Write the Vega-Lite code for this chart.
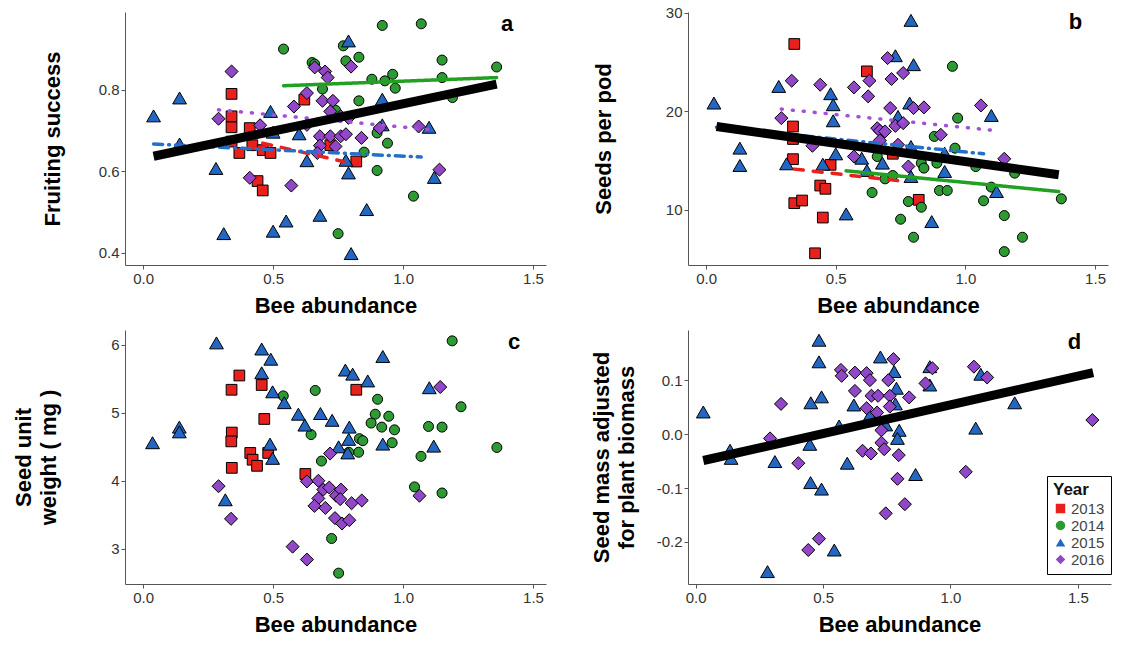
{
  "$schema": "https://vega.github.io/schema/vega-lite/v6.json",
  "padding": {"left": 12, "top": 5, "right": 5, "bottom": 5},
  "background": "white",
  "config": {
    "font": "Liberation Sans",
    "view": {"stroke": null},
    "axis": {"grid": false, "domainColor": "#555", "tickColor": "#555", "tickSize": 4, "labelFontSize": 15, "labelColor": "#333", "titleFontSize": 22, "titleFontWeight": "bold", "titleColor": "#000", "labelPadding": 2, "labelFlush": false, "labelOverlap": false, "titleLineHeight": 25},
    "axisX": {"titlePadding": 9},
    "legend": {"symbolStrokeColor": "black"}
  },
  "datasets": {
    "a": [
      {"yr":"2013","x":0.34,"y":0.79},{"yr":"2013","x":0.34,"y":0.735},{"yr":"2013","x":0.34,"y":0.708},{"yr":"2013","x":0.41,"y":0.706},{"yr":"2013","x":0.42,"y":0.664},{"yr":"2013","x":0.37,"y":0.645},{"yr":"2013","x":0.46,"y":0.652},{"yr":"2013","x":0.49,"y":0.645},{"yr":"2013","x":0.44,"y":0.576},{"yr":"2013","x":0.46,"y":0.553},{"yr":"2013","x":0.62,"y":0.776},{"yr":"2013","x":0.72,"y":0.664},{"yr":"2013","x":0.82,"y":0.624},{"yr":"2013","x":0.34,"y":0.673},
      {"yr":"2014","x":0.54,"y":0.9},{"yr":"2014","x":0.92,"y":0.958},{"yr":"2014","x":1.07,"y":0.962},{"yr":"2014","x":0.65,"y":0.867},{"yr":"2014","x":0.66,"y":0.863},{"yr":"2014","x":0.77,"y":0.908},{"yr":"2014","x":0.78,"y":0.871},{"yr":"2014","x":0.83,"y":0.88},{"yr":"2014","x":0.88,"y":0.826},{"yr":"2014","x":0.93,"y":0.822},{"yr":"2014","x":0.96,"y":0.838},{"yr":"2014","x":0.97,"y":0.804},{"yr":"2014","x":1.15,"y":0.873},{"yr":"2014","x":1.15,"y":0.83},{"yr":"2014","x":1.36,"y":0.856},{"yr":"2014","x":1.19,"y":0.781},{"yr":"2014","x":0.69,"y":0.802},{"yr":"2014","x":0.83,"y":0.773},{"yr":"2014","x":0.9,"y":0.694},{"yr":"2014","x":0.94,"y":0.669},{"yr":"2014","x":0.85,"y":0.647},{"yr":"2014","x":0.9,"y":0.602},{"yr":"2014","x":1.04,"y":0.539},{"yr":"2014","x":0.75,"y":0.447},{"yr":"2014","x":0.74,"y":0.75},
      {"yr":"2015","x":0.04,"y":0.736},{"yr":"2015","x":0.14,"y":0.78},{"yr":"2015","x":0.14,"y":0.667},{"yr":"2015","x":0.28,"y":0.607},{"yr":"2015","x":0.31,"y":0.447},{"yr":"2015","x":0.49,"y":0.747},{"yr":"2015","x":0.5,"y":0.696},{"yr":"2015","x":0.5,"y":0.453},{"yr":"2015","x":0.55,"y":0.478},{"yr":"2015","x":0.6,"y":0.692},{"yr":"2015","x":0.63,"y":0.626},{"yr":"2015","x":0.68,"y":0.492},{"yr":"2015","x":0.79,"y":0.92},{"yr":"2015","x":0.78,"y":0.627},{"yr":"2015","x":0.79,"y":0.596},{"yr":"2015","x":0.8,"y":0.398},{"yr":"2015","x":0.86,"y":0.506},{"yr":"2015","x":0.92,"y":0.777},{"yr":"2015","x":0.92,"y":0.714},{"yr":"2015","x":1.1,"y":0.708},{"yr":"2015","x":1.12,"y":0.585},
      {"yr":"2016","x":0.34,"y":0.845},{"yr":"2016","x":0.29,"y":0.729},{"yr":"2016","x":0.45,"y":0.713},{"yr":"2016","x":0.41,"y":0.584},{"yr":"2016","x":0.57,"y":0.565},{"yr":"2016","x":0.58,"y":0.759},{"yr":"2016","x":0.63,"y":0.792},{"yr":"2016","x":0.63,"y":0.714},{"yr":"2016","x":0.66,"y":0.855},{"yr":"2016","x":0.7,"y":0.845},{"yr":"2016","x":0.71,"y":0.83},{"yr":"2016","x":0.8,"y":0.857},{"yr":"2016","x":0.69,"y":0.773},{"yr":"2016","x":0.73,"y":0.773},{"yr":"2016","x":0.72,"y":0.747},{"yr":"2016","x":0.76,"y":0.735},{"yr":"2016","x":0.79,"y":0.731},{"yr":"2016","x":0.68,"y":0.686},{"yr":"2016","x":0.72,"y":0.686},{"yr":"2016","x":0.76,"y":0.686},{"yr":"2016","x":0.78,"y":0.691},{"yr":"2016","x":0.68,"y":0.663},{"yr":"2016","x":0.74,"y":0.661},{"yr":"2016","x":0.67,"y":0.645},{"yr":"2016","x":0.84,"y":0.682},{"yr":"2016","x":0.91,"y":0.706},{"yr":"2016","x":1.06,"y":0.71},{"yr":"2016","x":1.14,"y":0.604}
    ],
    "b": [
      {"yr":"2013","x":0.34,"y":26.85},{"yr":"2013","x":0.62,"y":24.07},{"yr":"2013","x":0.335,"y":18.47},{"yr":"2013","x":0.335,"y":15.15},{"yr":"2013","x":0.48,"y":14.58},{"yr":"2013","x":0.44,"y":12.47},{"yr":"2013","x":0.46,"y":12.14},{"yr":"2013","x":0.34,"y":10.68},{"yr":"2013","x":0.37,"y":10.95},{"yr":"2013","x":0.45,"y":9.22},{"yr":"2013","x":0.42,"y":5.59},{"yr":"2013","x":0.82,"y":11.02},{"yr":"2013","x":0.72,"y":15.7},{"yr":"2013","x":0.335,"y":17.2},
      {"yr":"2014","x":0.95,"y":24.58},{"yr":"2014","x":0.97,"y":19.32},{"yr":"2014","x":0.88,"y":17.46},{"yr":"2014","x":0.96,"y":16.27},{"yr":"2014","x":0.66,"y":15.42},{"yr":"2014","x":0.83,"y":14.75},{"yr":"2014","x":0.84,"y":14.24},{"yr":"2014","x":0.89,"y":14.75},{"yr":"2014","x":0.69,"y":13.15},{"yr":"2014","x":0.72,"y":13.49},{"yr":"2014","x":0.64,"y":11.76},{"yr":"2014","x":0.78,"y":10.85},{"yr":"2014","x":0.83,"y":10.27},{"yr":"2014","x":0.75,"y":9.05},{"yr":"2014","x":0.8,"y":7.22},{"yr":"2014","x":0.9,"y":11.97},{"yr":"2014","x":0.93,"y":11.97},{"yr":"2014","x":1.07,"y":10.92},{"yr":"2014","x":1.1,"y":12.31},{"yr":"2014","x":1.15,"y":9.42},{"yr":"2014","x":1.15,"y":5.76},{"yr":"2014","x":1.22,"y":7.22},{"yr":"2014","x":1.19,"y":13.73},{"yr":"2014","x":1.37,"y":11.12},{"yr":"2014","x":1.04,"y":14.4},
      {"yr":"2015","x":0.03,"y":20.85},{"yr":"2015","x":0.13,"y":16.27},{"yr":"2015","x":0.13,"y":14.51},{"yr":"2015","x":0.28,"y":22.54},{"yr":"2015","x":0.31,"y":14.68},{"yr":"2015","x":0.48,"y":21.8},{"yr":"2015","x":0.49,"y":20.68},{"yr":"2015","x":0.49,"y":19.05},{"yr":"2015","x":0.5,"y":15.69},{"yr":"2015","x":0.45,"y":14.64},{"yr":"2015","x":0.54,"y":9.59},{"yr":"2015","x":0.6,"y":15.25},{"yr":"2015","x":0.62,"y":14.0},{"yr":"2015","x":0.68,"y":14.75},{"yr":"2015","x":0.73,"y":25.66},{"yr":"2015","x":0.79,"y":29.25},{"yr":"2015","x":0.8,"y":24.75},{"yr":"2015","x":0.785,"y":20.85},{"yr":"2015","x":0.74,"y":19.49},{"yr":"2015","x":0.79,"y":16.44},{"yr":"2015","x":0.79,"y":13.39},{"yr":"2015","x":0.87,"y":8.81},{"yr":"2015","x":0.92,"y":15.76},{"yr":"2015","x":0.92,"y":13.9},{"yr":"2015","x":1.1,"y":19.59},{"yr":"2015","x":1.12,"y":11.86},
      {"yr":"2016","x":0.33,"y":23.12},{"yr":"2016","x":0.29,"y":19.32},{"yr":"2016","x":0.44,"y":22.71},{"yr":"2016","x":0.41,"y":16.51},{"yr":"2016","x":0.57,"y":22.44},{"yr":"2016","x":0.63,"y":23.12},{"yr":"2016","x":0.625,"y":21.53},{"yr":"2016","x":0.7,"y":25.42},{"yr":"2016","x":0.715,"y":23.29},{"yr":"2016","x":0.76,"y":23.9},{"yr":"2016","x":0.71,"y":20.34},{"yr":"2016","x":0.8,"y":20.34},{"yr":"2016","x":0.84,"y":20.41},{"yr":"2016","x":0.66,"y":18.3},{"yr":"2016","x":0.67,"y":18.03},{"yr":"2016","x":0.69,"y":17.97},{"yr":"2016","x":0.73,"y":18.54},{"yr":"2016","x":0.76,"y":18.81},{"yr":"2016","x":0.67,"y":17.05},{"yr":"2016","x":0.74,"y":16.61},{"yr":"2016","x":0.57,"y":15.42},{"yr":"2016","x":0.78,"y":14.41},{"yr":"2016","x":0.905,"y":17.63},{"yr":"2016","x":1.06,"y":20.61},{"yr":"2016","x":1.15,"y":15.19}
    ],
    "c": [
      {"yr":"2013","x":0.37,"y":5.55},{"yr":"2013","x":0.34,"y":5.34},{"yr":"2013","x":0.456,"y":5.41},{"yr":"2013","x":0.82,"y":5.34},{"yr":"2013","x":0.466,"y":4.91},{"yr":"2013","x":0.341,"y":4.71},{"yr":"2013","x":0.339,"y":4.58},{"yr":"2013","x":0.412,"y":4.41},{"yr":"2013","x":0.421,"y":4.31},{"yr":"2013","x":0.438,"y":4.22},{"yr":"2013","x":0.481,"y":4.41},{"yr":"2013","x":0.341,"y":4.19},{"yr":"2013","x":0.624,"y":4.1},
      {"yr":"2014","x":0.539,"y":5.25},{"yr":"2014","x":0.662,"y":5.33},{"yr":"2014","x":0.646,"y":4.68},{"yr":"2014","x":0.686,"y":4.29},{"yr":"2014","x":0.725,"y":3.15},{"yr":"2014","x":0.752,"y":2.64},{"yr":"2014","x":0.832,"y":4.62},{"yr":"2014","x":0.845,"y":4.59},{"yr":"2014","x":0.829,"y":4.42},{"yr":"2014","x":0.902,"y":5.2},{"yr":"2014","x":0.893,"y":4.98},{"yr":"2014","x":0.945,"y":4.95},{"yr":"2014","x":0.877,"y":4.85},{"yr":"2014","x":0.918,"y":4.79},{"yr":"2014","x":0.967,"y":4.75},{"yr":"2014","x":0.958,"y":4.56},{"yr":"2014","x":1.189,"y":6.06},{"yr":"2014","x":1.223,"y":5.09},{"yr":"2014","x":1.098,"y":4.8},{"yr":"2014","x":1.15,"y":4.79},{"yr":"2014","x":1.069,"y":4.36},{"yr":"2014","x":1.044,"y":3.91},{"yr":"2014","x":1.15,"y":3.82},{"yr":"2014","x":1.361,"y":4.49},{"yr":"2014","x":0.791,"y":4.42},
      {"yr":"2015","x":0.036,"y":4.56},{"yr":"2015","x":0.139,"y":4.79},{"yr":"2015","x":0.139,"y":4.72},{"yr":"2015","x":0.282,"y":6.03},{"yr":"2015","x":0.316,"y":3.72},{"yr":"2015","x":0.456,"y":5.94},{"yr":"2015","x":0.491,"y":5.79},{"yr":"2015","x":0.456,"y":5.59},{"yr":"2015","x":0.498,"y":5.31},{"yr":"2015","x":0.543,"y":5.15},{"yr":"2015","x":0.488,"y":4.54},{"yr":"2015","x":0.498,"y":4.33},{"yr":"2015","x":0.597,"y":4.98},{"yr":"2015","x":0.622,"y":4.82},{"yr":"2015","x":0.682,"y":4.99},{"yr":"2015","x":0.727,"y":4.89},{"yr":"2015","x":0.793,"y":4.79},{"yr":"2015","x":0.791,"y":4.61},{"yr":"2015","x":0.778,"y":5.63},{"yr":"2015","x":0.806,"y":5.57},{"yr":"2015","x":0.864,"y":5.47},{"yr":"2015","x":0.922,"y":5.83},{"yr":"2015","x":0.922,"y":4.54},{"yr":"2015","x":0.752,"y":4.5},{"yr":"2015","x":0.787,"y":4.41},{"yr":"2015","x":1.101,"y":5.37},{"yr":"2015","x":1.118,"y":4.51},
      {"yr":"2016","x":0.29,"y":3.92},{"yr":"2016","x":0.338,"y":3.44},{"yr":"2016","x":0.575,"y":3.03},{"yr":"2016","x":0.63,"y":2.84},{"yr":"2016","x":0.719,"y":4.4},{"yr":"2016","x":0.63,"y":3.99},{"yr":"2016","x":0.674,"y":4.0},{"yr":"2016","x":0.693,"y":3.87},{"yr":"2016","x":0.716,"y":3.9},{"yr":"2016","x":0.742,"y":3.78},{"yr":"2016","x":0.761,"y":3.87},{"yr":"2016","x":0.758,"y":3.73},{"yr":"2016","x":0.674,"y":3.74},{"yr":"2016","x":0.659,"y":3.63},{"yr":"2016","x":0.701,"y":3.6},{"yr":"2016","x":0.802,"y":3.67},{"yr":"2016","x":0.841,"y":3.71},{"yr":"2016","x":0.738,"y":3.45},{"yr":"2016","x":0.765,"y":3.37},{"yr":"2016","x":0.793,"y":3.42},{"yr":"2016","x":1.143,"y":5.38},{"yr":"2016","x":1.063,"y":3.78}
    ],
    "d": [
      {"yr":"2015","x":0.03,"y":0.041},{"yr":"2015","x":0.135,"y":-0.03},{"yr":"2015","x":0.139,"y":-0.045},{"yr":"2015","x":0.282,"y":-0.255},{"yr":"2015","x":0.311,"y":-0.051},{"yr":"2015","x":0.448,"y":-0.019},{"yr":"2015","x":0.452,"y":0.058},{"yr":"2015","x":0.451,"y":-0.09},{"yr":"2015","x":0.484,"y":0.174},{"yr":"2015","x":0.484,"y":0.134},{"yr":"2015","x":0.494,"y":0.069},{"yr":"2015","x":0.494,"y":-0.102},{"yr":"2015","x":0.544,"y":-0.215},{"yr":"2015","x":0.563,"y":0.015},{"yr":"2015","x":0.595,"y":-0.054},{"yr":"2015","x":0.621,"y":0.054},{"yr":"2015","x":0.684,"y":0.035},{"yr":"2015","x":0.725,"y":0.143},{"yr":"2015","x":0.746,"y":0.017},{"yr":"2015","x":0.779,"y":0.116},{"yr":"2015","x":0.788,"y":0.085},{"yr":"2015","x":0.784,"y":0.056},{"yr":"2015","x":0.799,"y":0.007},{"yr":"2015","x":0.792,"y":-0.008},{"yr":"2015","x":0.863,"y":-0.075},{"yr":"2015","x":0.919,"y":0.091},{"yr":"2015","x":0.919,"y":0.125},{"yr":"2015","x":1.099,"y":0.011},{"yr":"2015","x":1.119,"y":0.111},{"yr":"2015","x":1.252,"y":0.058},
      {"yr":"2016","x":0.292,"y":-0.008},{"yr":"2016","x":0.335,"y":0.056},{"yr":"2016","x":0.403,"y":-0.054},{"yr":"2016","x":0.442,"y":-0.215},{"yr":"2016","x":0.484,"y":-0.194},{"yr":"2016","x":0.57,"y":0.119},{"yr":"2016","x":0.573,"y":0.108},{"yr":"2016","x":0.625,"y":0.114},{"yr":"2016","x":0.625,"y":0.08},{"yr":"2016","x":0.671,"y":0.113},{"yr":"2016","x":0.684,"y":0.1},{"yr":"2016","x":0.671,"y":0.048},{"yr":"2016","x":0.69,"y":0.071},{"yr":"2016","x":0.716,"y":0.071},{"yr":"2016","x":0.712,"y":0.04},{"yr":"2016","x":0.756,"y":0.1},{"yr":"2016","x":0.776,"y":0.139},{"yr":"2016","x":0.762,"y":0.071},{"yr":"2016","x":0.762,"y":0.051},{"yr":"2016","x":0.729,"y":0.007},{"yr":"2016","x":0.729,"y":-0.016},{"yr":"2016","x":0.74,"y":-0.028},{"yr":"2016","x":0.655,"y":-0.031},{"yr":"2016","x":0.688,"y":-0.036},{"yr":"2016","x":0.797,"y":-0.039},{"yr":"2016","x":0.792,"y":-0.083},{"yr":"2016","x":0.746,"y":-0.147},{"yr":"2016","x":0.821,"y":-0.13},{"yr":"2016","x":0.838,"y":0.068},{"yr":"2016","x":0.902,"y":0.094},{"yr":"2016","x":0.929,"y":0.122},{"yr":"2016","x":1.092,"y":0.125},{"yr":"2016","x":1.144,"y":0.105},{"yr":"2016","x":1.06,"y":-0.07},{"yr":"2016","x":1.557,"y":0.026}
    ],
    "fits": [
      {"panel":"a","series":"2013","x1":0.46,"y1":0.669,"x2":0.77,"y2":0.624},
      {"panel":"a","series":"2014","x1":0.54,"y1":0.81,"x2":1.36,"y2":0.83},
      {"panel":"a","series":"2015","x1":0.04,"y1":0.667,"x2":1.07,"y2":0.635},
      {"panel":"a","series":"2016","x1":0.29,"y1":0.751,"x2":1.11,"y2":0.702},
      {"panel":"a","series":"All","x1":0.04,"y1":0.637,"x2":1.36,"y2":0.814},
      {"panel":"b","series":"2013","x1":0.34,"y1":14.14,"x2":0.77,"y2":12.88},
      {"panel":"b","series":"2014","x1":0.54,"y1":13.97,"x2":1.36,"y2":11.86},
      {"panel":"b","series":"2015","x1":0.04,"y1":18.4,"x2":1.07,"y2":15.7},
      {"panel":"b","series":"2016","x1":0.29,"y1":20.24,"x2":1.11,"y2":18.07},
      {"panel":"b","series":"All","x1":0.04,"y1":18.47,"x2":1.36,"y2":13.56},
      {"panel":"d","series":"All","x1":0.03,"y1":-0.049,"x2":1.56,"y2":0.114}
    ],
    "letters": [
      {"panel":"a","label":"a","x":1.4,"y":0.962},
      {"panel":"b","label":"b","x":1.425,"y":29.1},
      {"panel":"c","label":"c","x":1.427,"y":6.04},
      {"panel":"d","label":"d","x":1.487,"y":0.17}
    ]
  },
  "columns": 2,
  "spacing": {"row": 14, "column": 44},
  "resolve": {
    "scale": {"fill": "independent", "shape": "independent", "size": "independent", "stroke": "independent", "strokeDash": "independent"},
    "legend": {"fill": "independent", "shape": "independent", "size": "independent", "stroke": "independent", "strokeDash": "independent"}
  },
  "concat": [
    {
      "width": 421, "height": 253,
      "layer": [
        {
          "data": {"name": "a"},
          "mark": {"type": "point", "filled": true, "stroke": "black", "strokeWidth": 1, "opacity": 1},
          "encoding": {
            "x": {"field": "x", "type": "quantitative", "scale": {"domain": [-0.07, 1.55], "nice": false, "zero": false}, "axis": {"title": "Bee abundance", "values": [0, 0.5, 1, 1.5], "format": ".1f"}},
            "y": {"field": "y", "type": "quantitative", "scale": {"domain": [0.37, 0.991], "nice": false, "zero": false}, "axis": {"title": "Fruiting success", "values": [0.4, 0.6, 0.8], "format": ".1f", "titlePadding": 34}},
            "fill": {"field": "yr", "type": "nominal", "scale": {"domain": ["2013", "2014", "2015", "2016"], "range": ["#e8211d", "#2e9a34", "#2467c2", "#9147c8"]}, "legend": null},
            "shape": {"field": "yr", "type": "nominal", "scale": {"domain": ["2013", "2014", "2015", "2016"], "range": ["square", "circle", "triangle-up", "diamond"]}, "legend": null},
            "size": {"field": "yr", "type": "ordinal", "scale": {"type": "ordinal", "domain": ["2013", "2014", "2015", "2016", "none"], "range": [115, 100, 190, 170, 0]}, "legend": null}
          }
        },
        {
          "data": {"name": "fits"},
          "transform": [{"filter": "datum.panel == 'a' && datum.series != 'All'"}],
          "mark": {"type": "rule", "strokeWidth": 3.5, "strokeCap": "round"},
          "encoding": {
            "x": {"field": "x1", "type": "quantitative"}, "y": {"field": "y1", "type": "quantitative"},
            "x2": {"field": "x2"}, "y2": {"field": "y2"},
            "stroke": {"field": "series", "type": "nominal", "scale": {"domain": ["2013", "2014", "2015", "2016"], "range": ["#e8211d", "#22a022", "#2470c8", "#a350d8"]}, "legend": null},
            "strokeDash": {"field": "series", "type": "nominal", "scale": {"domain": ["2013", "2014", "2015", "2016"], "range": [[9, 10], [1, 0], [9, 6, 1, 6], [1, 10]]}, "legend": null}
          }
        },
        {
          "data": {"name": "fits"},
          "transform": [{"filter": "datum.panel == 'a' && datum.series == 'All'"}],
          "mark": {"type": "rule", "strokeWidth": 9, "color": "black"},
          "encoding": {
            "x": {"field": "x1", "type": "quantitative"}, "y": {"field": "y1", "type": "quantitative"},
            "x2": {"field": "x2"}, "y2": {"field": "y2"}
          }
        },
        {
          "data": {"name": "letters"},
          "transform": [{"filter": "datum.panel == 'a'"}],
          "mark": {"type": "text", "fontSize": 22, "fontWeight": "bold", "color": "black"},
          "encoding": {"x": {"field": "x", "type": "quantitative"}, "y": {"field": "y", "type": "quantitative"}, "text": {"field": "label"}}
        }
      ]
    },
    {
      "width": 420, "height": 253,
      "layer": [
        {
          "data": {"name": "b"},
          "mark": {"type": "point", "filled": true, "stroke": "black", "strokeWidth": 1, "opacity": 1},
          "encoding": {
            "x": {"field": "x", "type": "quantitative", "scale": {"domain": [-0.07, 1.55], "nice": false, "zero": false}, "axis": {"title": "Bee abundance", "values": [0, 0.5, 1, 1.5], "format": ".1f"}},
            "y": {"field": "y", "type": "quantitative", "scale": {"domain": [4.4, 30.1], "nice": false, "zero": false}, "axis": {"title": "Seeds per pod", "values": [10, 20, 30], "format": "d", "titlePadding": 50}},
            "fill": {"field": "yr", "type": "nominal", "scale": {"domain": ["2013", "2014", "2015", "2016"], "range": ["#e8211d", "#2e9a34", "#2467c2", "#9147c8"]}, "legend": null},
            "shape": {"field": "yr", "type": "nominal", "scale": {"domain": ["2013", "2014", "2015", "2016"], "range": ["square", "circle", "triangle-up", "diamond"]}, "legend": null},
            "size": {"field": "yr", "type": "ordinal", "scale": {"type": "ordinal", "domain": ["2013", "2014", "2015", "2016", "none"], "range": [115, 100, 190, 170, 0]}, "legend": null}
          }
        },
        {
          "data": {"name": "fits"},
          "transform": [{"filter": "datum.panel == 'b' && datum.series != 'All'"}],
          "mark": {"type": "rule", "strokeWidth": 3.5, "strokeCap": "round"},
          "encoding": {
            "x": {"field": "x1", "type": "quantitative"}, "y": {"field": "y1", "type": "quantitative"},
            "x2": {"field": "x2"}, "y2": {"field": "y2"},
            "stroke": {"field": "series", "type": "nominal", "scale": {"domain": ["2013", "2014", "2015", "2016"], "range": ["#e8211d", "#22a022", "#2470c8", "#a350d8"]}, "legend": null},
            "strokeDash": {"field": "series", "type": "nominal", "scale": {"domain": ["2013", "2014", "2015", "2016"], "range": [[9, 10], [1, 0], [9, 6, 1, 6], [1, 10]]}, "legend": null}
          }
        },
        {
          "data": {"name": "fits"},
          "transform": [{"filter": "datum.panel == 'b' && datum.series == 'All'"}],
          "mark": {"type": "rule", "strokeWidth": 9, "color": "black"},
          "encoding": {
            "x": {"field": "x1", "type": "quantitative"}, "y": {"field": "y1", "type": "quantitative"},
            "x2": {"field": "x2"}, "y2": {"field": "y2"}
          }
        },
        {
          "data": {"name": "letters"},
          "transform": [{"filter": "datum.panel == 'b'"}],
          "mark": {"type": "text", "fontSize": 22, "fontWeight": "bold", "color": "black"},
          "encoding": {"x": {"field": "x", "type": "quantitative"}, "y": {"field": "y", "type": "quantitative"}, "text": {"field": "label"}}
        }
      ]
    },
    {
      "width": 421, "height": 254,
      "layer": [
        {
          "data": {"name": "c"},
          "mark": {"type": "point", "filled": true, "stroke": "black", "strokeWidth": 1, "opacity": 1},
          "encoding": {
            "x": {"field": "x", "type": "quantitative", "scale": {"domain": [-0.07, 1.55], "nice": false, "zero": false}, "axis": {"title": "Bee abundance", "values": [0, 0.5, 1, 1.5], "format": ".1f"}},
            "y": {"field": "y", "type": "quantitative", "scale": {"domain": [2.48, 6.22], "nice": false, "zero": false}, "axis": {"title": ["Seed unit", "weight ( mg )"], "values": [3, 4, 5, 6], "format": "d", "titlePadding": 50}},
            "fill": {"field": "yr", "type": "nominal", "scale": {"domain": ["2013", "2014", "2015", "2016"], "range": ["#e8211d", "#2e9a34", "#2467c2", "#9147c8"]}, "legend": null},
            "shape": {"field": "yr", "type": "nominal", "scale": {"domain": ["2013", "2014", "2015", "2016"], "range": ["square", "circle", "triangle-up", "diamond"]}, "legend": null},
            "size": {"field": "yr", "type": "ordinal", "scale": {"type": "ordinal", "domain": ["2013", "2014", "2015", "2016", "none"], "range": [115, 100, 190, 170, 0]}, "legend": null}
          }
        },
        {
          "data": {"name": "letters"},
          "transform": [{"filter": "datum.panel == 'c'"}],
          "mark": {"type": "text", "fontSize": 22, "fontWeight": "bold", "color": "black"},
          "encoding": {"x": {"field": "x", "type": "quantitative"}, "y": {"field": "y", "type": "quantitative"}, "text": {"field": "label"}}
        }
      ]
    },
    {
      "width": 423, "height": 254,
      "layer": [
        {
          "data": {"name": "d"},
          "mark": {"type": "point", "filled": true, "stroke": "black", "strokeWidth": 1, "opacity": 1},
          "encoding": {
            "x": {"field": "x", "type": "quantitative", "scale": {"domain": [-0.03, 1.63], "nice": false, "zero": false}, "axis": {"title": "Bee abundance", "values": [0, 0.5, 1, 1.5], "format": ".1f"}},
            "y": {"field": "y", "type": "quantitative", "scale": {"domain": [-0.278, 0.193], "nice": false, "zero": false}, "axis": {"title": ["Seed mass adjusted", "for plant biomass"], "values": [-0.2, -0.1, 0, 0.1], "labelExpr": "datum.value < 0 ? '-' + format(-datum.value, '.1f') : format(datum.value, '.1f')", "titlePadding": 18}},
            "fill": {"field": "yr", "type": "nominal", "scale": {"domain": ["2013", "2014", "2015", "2016"], "range": ["#e8211d", "#2e9a34", "#2467c2", "#9147c8"]},
              "legend": {"title": "Year", "orient": "none", "legendX": 359, "legendY": 146, "strokeColor": "black", "fillColor": "white", "padding": 6, "symbolStrokeColor": "black", "symbolStrokeWidth": 1, "symbolSize": 90, "labelFontSize": 15, "labelColor": "#444", "titleFontSize": 17, "titleFontWeight": "bold", "titleColor": "#111", "rowPadding": 1, "titlePadding": 2, "labelOffset": 3, "encode": {"legend": {"update": {"strokeWidth": {"value": 3}}}}}},
            "shape": {"field": "yr", "type": "nominal", "scale": {"domain": ["2013", "2014", "2015", "2016"], "range": ["square", "circle", "triangle-up", "diamond"]},
              "legend": {"title": "Year", "orient": "none", "legendX": 359, "legendY": 146, "strokeColor": "black", "fillColor": "white", "padding": 6, "symbolStrokeColor": "black", "symbolStrokeWidth": 1, "symbolSize": 90, "labelFontSize": 15, "labelColor": "#444", "titleFontSize": 17, "titleFontWeight": "bold", "titleColor": "#111", "rowPadding": 1, "titlePadding": 2, "labelOffset": 3, "encode": {"legend": {"update": {"strokeWidth": {"value": 3}}}}}},
            "size": {"field": "yr", "type": "ordinal", "scale": {"type": "ordinal", "domain": ["2013", "2014", "2015", "2016", "none"], "range": [115, 100, 190, 170, 0]}, "legend": null}
          }
        },
        {
          "data": {"name": "fits"},
          "transform": [{"filter": "datum.panel == 'd' && datum.series == 'All'"}],
          "mark": {"type": "rule", "strokeWidth": 9, "color": "black"},
          "encoding": {
            "x": {"field": "x1", "type": "quantitative"}, "y": {"field": "y1", "type": "quantitative"},
            "x2": {"field": "x2"}, "y2": {"field": "y2"}
          }
        },
        {
          "data": {"name": "letters"},
          "transform": [{"filter": "datum.panel == 'd'"}],
          "mark": {"type": "text", "fontSize": 22, "fontWeight": "bold", "color": "black"},
          "encoding": {"x": {"field": "x", "type": "quantitative"}, "y": {"field": "y", "type": "quantitative"}, "text": {"field": "label"}}
        }
      ]
    }
  ]
}
